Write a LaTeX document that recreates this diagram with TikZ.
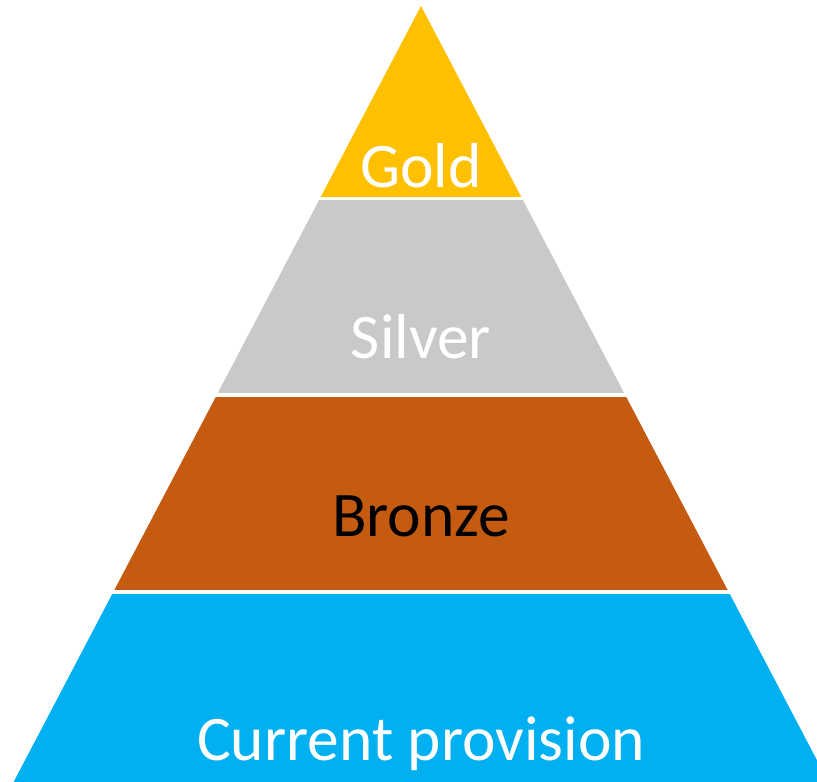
\documentclass[tikz,border=0pt]{standalone}
\usepackage{fontspec}
\setmainfont{Carlito}
\usepackage{tikz}
\definecolor{goldfill}{HTML}{FFC000}
\definecolor{silverfill}{HTML}{C9C9C9}
\definecolor{bronzefill}{HTML}{C55A11}
\definecolor{basefill}{HTML}{00B0F0}

\begin{document}
\begin{tikzpicture}[x=1pt,y=-1pt,
    tiertext/.style={font=\fontsize{63.5}{76}\selectfont,anchor=base,inner sep=0pt},
    gap/.style={draw=white,line width=3.5pt}]
    \useasboundingbox (0,0) rectangle (817,782);
    \clip (0,0) rectangle (817,782);
    % layers of the pyramid, top to bottom
    \fill[goldfill] (421,6) -- (522.1,198.5) -- (319.9,198.5) -- cycle;
    \fill[silverfill] (319.9,198.5) -- (522.1,198.5) -- (625.2,395) -- (216.8,395) -- cycle;
    \fill[bronzefill] (216.8,395) -- (625.2,395) -- (728.7,592) -- (113.3,592) -- cycle;
    \fill[basefill] (113.3,592) -- (728.7,592) -- (832.6,790) -- (9.4,790) -- cycle;
    % white gaps between the layers
    \draw[gap] (300,198.5) -- (540,198.5);
    \draw[gap] (200,395) -- (640,395);
    \draw[gap] (100,592) -- (740,592);
    \node[tiertext,text=white] (gold) at (421,187) {Gold};
    \node[tiertext,text=white] (silver) at (421,358) {Silver};
    \node[tiertext,text=black] (bronze) at (421,536) {Bronze};
    \node[tiertext,text=white] (current) at (421,760) {Current provision};
\end{tikzpicture}
\end{document}
